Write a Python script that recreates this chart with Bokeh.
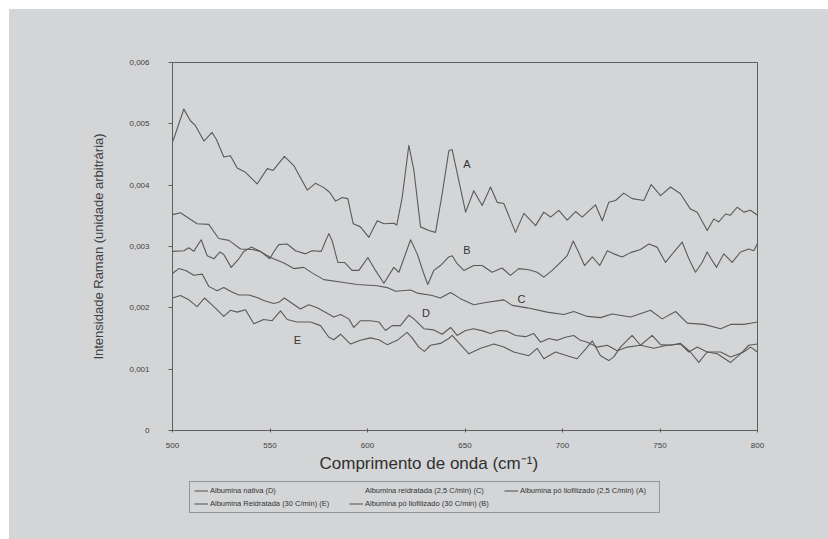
from bokeh.plotting import figure
from bokeh.models import FixedTicker, Legend, LegendItem, Title, ColumnDataSource
from bokeh.layouts import column
from bokeh.embed import file_html
from bokeh.resources import INLINE
from bokeh.core.properties import value

# ---------------- data ----------------
x_ticks = [500, 550, 600, 650, 700, 750, 800]
y_ticks = [0, 0.001, 0.002, 0.003, 0.004, 0.005, 0.006]
y_tick_labels = ["0", "0,001", "0,002", "0,003", "0,004", "0,005", "0,006"]

# A: Albumina pó liofilizado (2,5 C/min)
wn_a = [500, 502.4, 505.8, 509.2, 511.8, 516.1, 520.3, 522.6, 526.3, 529.7, 533.2, 537.4,
        543.4, 548.6, 551.6, 557.4, 562.2, 569.1, 573.3, 577.6, 580.7, 583.6, 587.0, 589.9,
        592.7, 596.4, 600.7, 605.0, 608.4, 613.5, 615.0, 617.8, 621.2, 623.8, 627.2, 631.4,
        634.9, 638.3, 641.7, 643.4, 646.8, 650.3, 654.5, 658.8, 663.1, 666.5, 669.9, 675.9,
        680.2, 686.2, 690.4, 693.9, 698.1, 702.4, 706.7, 710.1, 716.9, 720.4, 723.7, 727.2,
        731.4, 735.7, 741.7, 745.5, 750.3, 755.4, 760.5, 765.6, 769.1, 774.2, 777.6, 780.1,
        783.6, 786.1, 789.6, 793.0, 796.4, 800.0]
int_a = [0.00470, 0.00492, 0.00524, 0.00505, 0.00497, 0.00472, 0.00486, 0.00474, 0.00446, 0.00448,
         0.00428, 0.00421, 0.00402, 0.00427, 0.00424, 0.00447, 0.00432, 0.00392, 0.00403, 0.00396,
         0.00388, 0.00374, 0.00380, 0.00378, 0.00337, 0.00332, 0.00315, 0.00342, 0.00337, 0.00338,
         0.00335, 0.00380, 0.00465, 0.00424, 0.00332, 0.00326, 0.00323, 0.00386, 0.00456, 0.00458,
         0.00408, 0.00356, 0.00391, 0.00367, 0.00397, 0.00372, 0.00370, 0.00323, 0.00354, 0.00334,
         0.00356, 0.00348, 0.00359, 0.00343, 0.00357, 0.00348, 0.00368, 0.00342, 0.00372, 0.00375,
         0.00387, 0.00378, 0.00375, 0.00401, 0.00383, 0.00397, 0.00386, 0.00361, 0.00356, 0.00326,
         0.00345, 0.00340, 0.00353, 0.00351, 0.00364, 0.00356, 0.00359, 0.00351]

# B: Albumina pó liofilizado (30 C/min)
wn_b = [500, 505.8, 508.4, 510.9, 514.7, 517.8, 521.2, 524.3, 526.3, 530.1, 534.0, 536.6,
        540.4, 545.1, 549.9, 551.9, 554.5, 558.8, 563.1, 568.2, 571.6, 576.3, 578.5, 580.2,
        581.9, 584.8, 588.2, 592.1, 595.6, 600.2, 604.1, 608.4, 613.5, 616.1, 622.1, 625.5,
        628.6, 630.9, 634.0, 637.4, 641.7, 643.4, 646.0, 649.4, 654.5, 658.8, 663.9, 669.0,
        673.3, 677.6, 682.7, 687.0, 690.4, 694.7, 699.0, 702.4, 705.5, 707.9, 711.3, 715.3,
        719.1, 723.0, 726.3, 730.6, 734.9, 740.0, 744.3, 748.5, 752.8, 757.1, 761.4, 764.8,
        768.2, 771.6, 774.2, 776.2, 779.0, 782.7, 787.0, 791.3, 795.5, 798.1, 800.0]
int_b = [0.00292, 0.00293, 0.00298, 0.00292, 0.00311, 0.00285, 0.00280, 0.00291, 0.00287, 0.00266,
         0.00280, 0.00292, 0.00299, 0.00292, 0.00280, 0.00291, 0.00303, 0.00304, 0.00293, 0.00288,
         0.00293, 0.00292, 0.00309, 0.00321, 0.00309, 0.00274, 0.00274, 0.00261, 0.00261, 0.00282,
         0.00261, 0.00240, 0.00266, 0.00258, 0.00311, 0.00288, 0.00258, 0.00238, 0.00261, 0.00269,
         0.00283, 0.00285, 0.00272, 0.00261, 0.00269, 0.00269, 0.00258, 0.00265, 0.00253, 0.00264,
         0.00262, 0.00258, 0.00250, 0.00261, 0.00274, 0.00285, 0.00309, 0.00293, 0.00269, 0.00283,
         0.00269, 0.00293, 0.00288, 0.00283, 0.00290, 0.00295, 0.00304, 0.00299, 0.00274, 0.00291,
         0.00307, 0.00280, 0.00258, 0.00274, 0.00291, 0.00280, 0.00266, 0.00288, 0.00274, 0.00291,
         0.00296, 0.00293, 0.00305]

# C: Albumina reidratada (2,5 C/min)
wn_c = [500, 504.1, 512.6, 518.6, 523.7, 528.9, 534.9, 540.9, 545.0, 550.3, 557.1, 562.2,
        567.3, 571.6, 577.6, 586.2, 594.7, 605.0, 610.1, 614.4, 622.1, 625.5, 633.2, 637.4,
        642.6, 647.7, 654.5, 661.4, 669.9, 674.2, 681.9, 692.1, 700.7, 705.8, 712.7, 719.5,
        725.5, 734.9, 745.1, 751.1, 758.0, 764.0, 772.5, 781.1, 786.2, 792.9, 796.4, 800.0]
int_c = [0.00352, 0.00355, 0.00337, 0.00336, 0.00313, 0.00310, 0.00296, 0.00295, 0.00292, 0.00282,
         0.00273, 0.00264, 0.00266, 0.00257, 0.00246, 0.00242, 0.00238, 0.00236, 0.00233, 0.00227,
         0.00229, 0.00224, 0.00220, 0.00216, 0.00225, 0.00215, 0.00205, 0.00209, 0.00213, 0.00204,
         0.00200, 0.00193, 0.00189, 0.00194, 0.00186, 0.00184, 0.00190, 0.00185, 0.00196, 0.00182,
         0.00194, 0.00175, 0.00173, 0.00166, 0.00173, 0.00173, 0.00175, 0.00177]

# D: Albumina nativa
wn_d = [500, 503.2, 506.8, 510.9, 515.2, 518.6, 522.9, 526.3, 529.7, 534.0, 539.1, 543.4,
        546.8, 551.9, 554.5, 557.4, 560.5, 565.6, 569.9, 574.2, 579.3, 582.7, 586.2, 590.4,
        593.0, 596.4, 601.5, 605.8, 609.2, 612.7, 616.9, 621.2, 623.8, 628.9, 634.0, 638.3,
        642.6, 646.0, 650.3, 654.5, 659.6, 663.1, 667.4, 671.6, 675.9, 681.0, 685.3, 688.7,
        693.0, 697.3, 701.5, 705.8, 709.2, 712.7, 717.8, 723.0, 728.1, 733.2, 740.0, 746.8,
        753.7, 760.5, 764.8, 769.1, 774.2, 781.1, 786.2, 792.9, 796.4, 800.0]
int_d = [0.00256, 0.00264, 0.00261, 0.00253, 0.00255, 0.00235, 0.00228, 0.00233, 0.00227, 0.00221,
         0.00221, 0.00217, 0.00212, 0.00207, 0.00209, 0.00216, 0.00209, 0.00198, 0.00205, 0.00200,
         0.00191, 0.00185, 0.00189, 0.00182, 0.00168, 0.00179, 0.00179, 0.00177, 0.00163, 0.00171,
         0.00171, 0.00188, 0.00182, 0.00166, 0.00164, 0.00157, 0.00168, 0.00155, 0.00163, 0.00166,
         0.00162, 0.00158, 0.00163, 0.00162, 0.00155, 0.00153, 0.00158, 0.00144, 0.00150, 0.00147,
         0.00152, 0.00155, 0.00147, 0.00144, 0.00136, 0.00139, 0.00130, 0.00136, 0.00139, 0.00134,
         0.00139, 0.00141, 0.00128, 0.00136, 0.00128, 0.00128, 0.00120, 0.00128, 0.00136, 0.00128]

# E: Albumina Reidratada (30 C/min)
wn_e = [500, 504.1, 508.4, 512.6, 516.4, 521.2, 526.3, 529.7, 533.2, 537.4, 541.7, 546.8,
        551.1, 555.4, 558.8, 563.9, 570.8, 575.9, 580.2, 582.7, 586.2, 591.3, 596.4, 601.5,
        605.8, 610.1, 615.2, 620.3, 622.9, 626.3, 629.2, 632.3, 637.4, 641.7, 643.4, 652.0,
        658.0, 664.8, 669.9, 675.0, 682.7, 687.0, 690.4, 696.4, 702.4, 707.5, 712.7, 715.3,
        719.5, 723.7, 726.3, 729.7, 735.7, 740.0, 746.0, 750.3, 755.4, 760.5, 765.6, 769.9,
        774.2, 779.3, 786.2, 791.3, 795.5, 800.0]
int_e = [0.00216, 0.00220, 0.00213, 0.00202, 0.00216, 0.00202, 0.00186, 0.00196, 0.00193, 0.00197,
         0.00174, 0.00181, 0.00179, 0.00195, 0.00181, 0.00177, 0.00177, 0.00171, 0.00152, 0.00148,
         0.00157, 0.00141, 0.00147, 0.00151, 0.00148, 0.00140, 0.00147, 0.00160, 0.00151, 0.00136,
         0.00129, 0.00139, 0.00142, 0.00150, 0.00155, 0.00125, 0.00134, 0.00141, 0.00136, 0.00128,
         0.00122, 0.00134, 0.00117, 0.00128, 0.00122, 0.00117, 0.00136, 0.00146, 0.00122, 0.00114,
         0.00120, 0.00136, 0.00155, 0.00139, 0.00155, 0.00140, 0.00139, 0.00142, 0.00128, 0.00111,
         0.00128, 0.00125, 0.00111, 0.00125, 0.00139, 0.00141]

curve_letters = ["A", "B", "C", "D", "E"]
letter_x = [651, 651, 679, 630, 564]
letter_y = [0.00434, 0.00294, 0.00215, 0.00191, 0.00147]

legend_names = {
    "D": "Albumina nativa (D)",
    "C": "Albumina reidratada (2,5 C/min) (C)",
    "A": "Albumina pó liofilizado (2,5 C/min) (A)",
    "E": "Albumina Reidratada (30 C/min) (E)",
    "B": "Albumina pó liofilizado (30 C/min) (B)",
}
legend_order = ["D", "C", "A", "E", "B"]

x_title = "Comprimento de onda (cm\u207b\u00b9)"
y_title = "Intensidade Raman (unidade arbitrária)"

# ---------------- style ----------------
BG = "#d4d5d7"
LINE = "#5a5a5a"
AXIS = "#5e5e5e"
TXT = "#404040"
FONT = "Liberation Sans"

series = {
    "A": (wn_a, int_a),
    "B": (wn_b, int_b),
    "C": (wn_c, int_c),
    "D": (wn_d, int_d),
    "E": (wn_e, int_e),
}

# main chart: occupies y 9..476 of the window
p = figure(width=819, height=467, x_range=(500, 800), y_range=(0, 0.006),
           output_backend="svg", toolbar_location=None,
           min_border_left=163, min_border_right=71, min_border_top=53,
           min_border_bottom=46,
           background_fill_color=BG, border_fill_color=BG)
p.xgrid.visible = False
p.ygrid.visible = False
p.outline_line_color = AXIS
p.outline_line_width = 1

p.xaxis.ticker = FixedTicker(ticks=x_ticks)
p.yaxis.ticker = FixedTicker(ticks=y_ticks)
p.yaxis.major_label_overrides = dict(zip(y_ticks, y_tick_labels))

for ax in (p.xaxis, p.yaxis):
    ax.axis_line_color = AXIS
    ax.major_tick_line_color = AXIS
    ax.minor_tick_line_color = None
    ax.major_label_text_font = FONT
    ax.major_label_text_font_size = "8px"
    ax.major_label_text_color = TXT

p.yaxis.major_tick_in = 0
p.yaxis.major_tick_out = 4
p.yaxis.major_label_standoff = 19
p.xaxis.major_tick_in = 2
p.xaxis.major_tick_out = 2
p.xaxis.major_label_standoff = 10

p.yaxis.axis_label = y_title
p.yaxis.axis_label_text_font = FONT
p.yaxis.axis_label_text_font_size = "13px"
p.yaxis.axis_label_text_font_style = "normal"
p.yaxis.axis_label_text_color = TXT
p.yaxis.axis_label_standoff = 20

for key in ["A", "B", "C", "D", "E"]:
    xs, ys = series[key]
    p.line(xs, ys, line_color=LINE, line_width=1.1, line_join="round")

src = ColumnDataSource(dict(x=letter_x, y=letter_y, t=curve_letters))
p.text("x", "y", text="t", source=src, text_font=value(FONT),
       text_font_size="11px", text_color="#333333",
       text_align="center", text_baseline="middle")

# x-axis title (offset to the left as in the reference)
xt = Title(text=x_title, align="left", offset=147, text_font=FONT,
           text_font_size="17px", text_font_style="normal",
           text_color="#303030", standoff=2)
p.add_layout(xt, "below")

# legend strip: a second figure with the same frame columns as the chart
p2 = figure(width=819, height=63, x_range=(0, 1), y_range=(0, 1),
            output_backend="svg", toolbar_location=None,
            min_border_left=163, min_border_right=71, min_border_top=0,
            min_border_bottom=20,
            background_fill_color=BG, border_fill_color=BG)
p2.axis.visible = False
p2.xgrid.visible = False
p2.ygrid.visible = False
p2.outline_line_color = None

# legend renderers carry the same series; they lie outside this strip's ranges
legend_renderers = {}
for key in legend_order:
    xs, ys = series[key]
    alpha = 0 if key == "C" else 1   # C entry shows no sample in the reference
    legend_renderers[key] = p2.line(xs, ys, line_color=LINE, line_width=1.1,
                                    line_alpha=alpha)

items = [LegendItem(label=legend_names[k], renderers=[legend_renderers[k]])
         for k in legend_order]

legend = Legend(items=items, orientation="horizontal", ncols=3,
                location=(17, 6), glyph_width=14, glyph_height=9,
                label_height=9, label_width=135, label_standoff=2,
                spacing=4, padding=4, margin=0,
                border_line_color="#555555", border_line_width=1,
                background_fill_alpha=0,
                label_text_font=FONT, label_text_font_size="7.5px",
                label_text_color="#333333")
p2.add_layout(legend)

layout = column(p, p2, spacing=0)
layout.margin = (9, 0, 0, 9)
layout.background = BG
open("out.html", "w").write(file_html(layout, INLINE))
